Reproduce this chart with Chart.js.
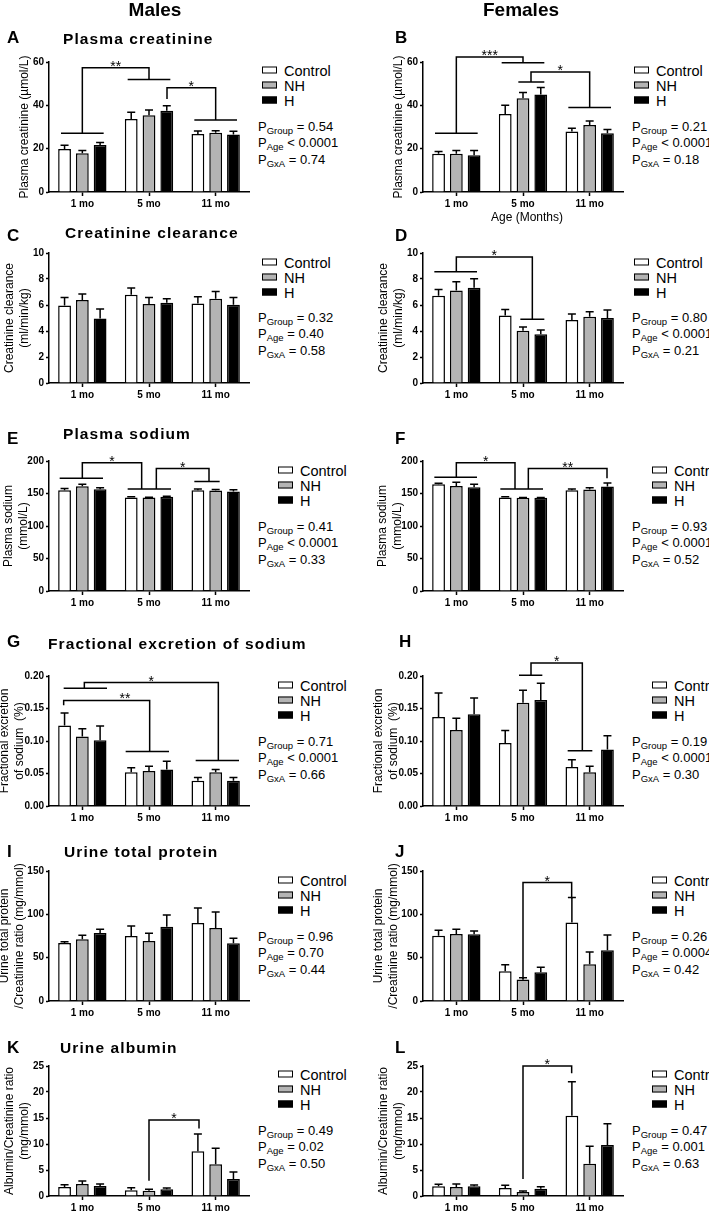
<!DOCTYPE html>
<html>
<head>
<meta charset="utf-8">
<script src="https://cdn.jsdelivr.net/npm/chart.js@4.4.1/dist/chart.umd.min.js"></script>
<style>
body { margin: 0; background: #fff; overflow: hidden; font-family: "Liberation Sans", Arial, sans-serif; color: #000; }
#fig { position: relative; width: 709px; height: 1225px; overflow: hidden; }
.abs { position: absolute; white-space: nowrap; }
.head { font-weight: bold; font-size: 19px; }
.letter { font-weight: bold; font-size: 17px; }
.ptitle { font-weight: bold; font-size: 15.5px; letter-spacing: 1.1px; }
.axt { font-size: 12px; }
.legend div { height: 15px; display: flex; align-items: center; font-size: 14.5px; }
.legend i { display: inline-block; width: 13px; height: 5px; border: 1.5px solid #000; margin-right: 7px; }
.pv { font-size: 13px; line-height: 16.5px; }
.pv sub { font-size: 9.5px; vertical-align: baseline; position: relative; top: 3px; line-height: 0; }
canvas { position: absolute; }
</style>
</head>
<body>
<div id="fig"></div>
<script>
const ages = ['1 mo', '5 mo', '11 mo'];
const groups = ['Control', 'NH', 'H'];
const groupFills = ['#ffffff', '#b4b4b4', '#000000'];

// each panel: mean and SEM per group (Control, NH, H) across ages
const creatMalesMean = [[19.9, 33.7, 26.8], [17.9, 35.4, 27.3], [21.7, 37.5, 26.5]];
const creatMalesSem = [[1.7, 3.1, 1.4], [1.2, 2.4, 1.0], [1.1, 2.3, 1.5]];
const creatFemalesMean = [[17.6, 36.0, 27.9], [17.6, 43.3, 30.9], [17.0, 45.0, 27.1]];
const creatFemalesSem = [[1.1, 4.0, 1.5], [1.5, 2.6, 1.9], [2.1, 3.2, 1.7]];

const clearMalesMean = [[5.97, 6.79, 6.12], [6.38, 6.07, 6.48], [4.97, 6.17, 6.02]];
const clearMalesSem = [[0.61, 0.51, 0.51], [0.46, 0.51, 0.56], [0.72, 0.31, 0.56]];
const clearFemalesMean = [[6.71, 5.20, 4.85], [7.12, 4.01, 5.10], [7.32, 3.75, 5.00]];
const clearFemalesSem = [[0.48, 0.46, 0.46], [0.66, 0.30, 0.38], [0.69, 0.33, 0.61]];

const sodiumMalesMean = [[155.1, 143.9, 155.1], [161.2, 143.9, 154.6], [156.6, 144.9, 153.1]];
const sodiumMalesSem = [[2.6, 1.0, 2.0], [3.1, 0.5, 1.5], [2.1, 1.0, 2.5]];
const sodiumFemalesMean = [[164.3, 143.9, 155.1], [161.7, 143.4, 156.1], [159.7, 143.4, 160.7]];
const sodiumFemalesSem = [[1.5, 1.0, 2.0], [5.6, 0.5, 2.6], [4.6, 0.5, 5.6]];

const feNaMalesMean = [[0.124, 0.052, 0.039], [0.107, 0.054, 0.052], [0.101, 0.056, 0.039]];
const feNaMalesSem = [[0.019, 0.007, 0.005], [0.012, 0.007, 0.004], [0.022, 0.013, 0.005]];
const feNaFemalesMean = [[0.137, 0.097, 0.060], [0.117, 0.159, 0.052], [0.141, 0.163, 0.087]];
const feNaFemalesSem = [[0.037, 0.019, 0.011], [0.018, 0.019, 0.009], [0.025, 0.026, 0.021]];

const protMalesMean = [[67.0, 75.0, 89.9], [71.2, 69.3, 84.2], [78.5, 85.7, 66.6]];
const protMalesSem = [[1.5, 11.5, 17.3], [4.6, 8.8, 18.4], [4.2, 13.4, 5.7]];
const protFemalesMean = [[75.4, 34.4, 90.7], [77.3, 24.9, 42.5], [76.9, 33.3, 58.6]];
const protFemalesSem = [[6.1, 7.3, 28.7], [5.4, 1.9, 14.1], [3.8, 5.7, 17.6]];

const albMalesMean = [[1.73, 1.09, 8.59], [2.31, 1.03, 6.09], [1.92, 1.28, 3.27]];
const albMalesSem = [[0.45, 0.51, 3.31], [0.57, 0.25, 3.08], [0.39, 0.26, 1.35]];
const albFemalesMean = [[1.86, 1.54, 15.45], [1.73, 0.77, 6.22], [1.86, 1.41, 9.81]];
const albFemalesSem = [[0.38, 0.51, 6.54], [0.58, 0.19, 3.33], [0.26, 0.38, 4.10]];

// two-way ANOVA results: Group, Age, GxA
const creatMalesP = ['= 0.54', '< 0.0001', '= 0.74'];
const creatFemalesP = ['= 0.21', '< 0.0001', '= 0.18'];
const clearMalesP = ['= 0.32', '= 0.40', '= 0.58'];
const clearFemalesP = ['= 0.80', '< 0.0001', '= 0.21'];
const sodiumMalesP = ['= 0.41', '< 0.0001', '= 0.33'];
const sodiumFemalesP = ['= 0.93', '< 0.0001', '= 0.52'];
const feNaMalesP = ['= 0.71', '< 0.0001', '= 0.66'];
const feNaFemalesP = ['= 0.19', '< 0.0001', '= 0.30'];
const protMalesP = ['= 0.96', '= 0.70', '= 0.44'];
const protFemalesP = ['= 0.26', '= 0.0004', '= 0.42'];
const albMalesP = ['= 0.49', '= 0.02', '= 0.50'];
const albFemalesP = ['= 0.47', '= 0.001', '= 0.63'];

// significance brackets: x in category units (0 = 1 mo), y in data units
const creatMalesSig = [
  { from: { x: 0, y: 27.1, l: [-0.32, 0.32] }, to: { x: 1, y: 51.9, l: [0.68, 1.32] }, top: 57.3, star: '**' },
  { from: { x: 1.27, y: 42.9 }, to: { x: 2, y: 33.2, l: [1.68, 2.32] }, top: 48.1, star: '*' }
];
const creatFemalesSig = [
  { from: { x: 0, y: 27.1, l: [-0.32, 0.32] }, to: { x: 1, y: 59.7, l: [0.68, 1.32] }, top: 62.3, star: '***' },
  { from: { x: 1.12, y: 50.8, l: [0.93, 1.32] }, to: { x: 2, y: 39.0, l: [1.68, 2.32] }, top: 55.4, star: '*' }
];
const clearFemalesSig = [
  { from: { x: 0, y: 8.55, l: [-0.33, 0.31] }, to: { x: 1.14, y: 4.9, l: [0.96, 1.32] }, top: 9.69, star: '*' }
];
const sodiumMalesSig = [
  { from: { x: 0, y: 173.5, l: [-0.34, 0.31] }, to: { x: 0.89, y: 157.1, l: [0.68, 1.33] }, top: 197.4, star: '*' },
  { from: { x: 1.11, y: 157.1 }, to: { x: 1.9, y: 168.4, l: [1.68, 2.06] }, top: 188.3, star: '*' }
];
const sodiumFemalesSig = [
  { from: { x: 0, y: 175.0, l: [-0.33, 0.31] }, to: { x: 0.88, y: 157.1, l: [0.66, 1.30] }, top: 197.4, star: '*' },
  { from: { x: 1.08, y: 157.1 }, to: { x: 2.26, y: 173.5 }, top: 188.3, star: '**' }
];
const feNaMalesSig = [
  { from: { x: 0.03, y: 0.181, l: [-0.28, 0.37] }, to: { x: 2.04, y: 0.070, l: [1.70, 2.35] }, top: 0.190, star: '*' },
  { from: { x: -0.28, y: 0.155 }, to: { x: 1.01, y: 0.084, l: [0.65, 1.30] }, top: 0.1625, star: '**', sx: 0.64 }
];
const feNaFemalesSig = [
  { from: { x: 1.12, y: 0.201, l: [0.94, 1.29] }, to: { x: 1.89, y: 0.085, l: [1.67, 2.04] }, top: 0.220, star: '*' }
];
const protFemalesSig = [
  { from: { x: 1.0, y: 24.9 }, to: { x: 1.73, y: 118.3 }, top: 136.6, star: '*' }
];
const albMalesSig = [
  { from: { x: 1.0, y: 2.95 }, to: { x: 1.75, y: 13.0 }, top: 14.6, star: '*' }
];
const albFemalesSig = [
  { from: { x: 1.0, y: 3.27 }, to: { x: 1.73, y: 23.6 }, top: 25.0, star: '*' }
];

const FONT = '"Liberation Sans", Arial, sans-serif';
const fig = document.getElementById('fig');

// layout per row
const rows = [
  { plotTop: 62, legY: 70, pY: 127, letY: 38, titleY: 39 },
  { plotTop: 253, legY: 262, pY: 318, letY: 236, titleY: 233 },
  { plotTop: 461, legY: 470, pY: 527, letY: 439, titleY: 434 },
  { plotTop: 676, legY: 685, pY: 742, letY: 642, titleY: 644 },
  { plotTop: 871, legY: 880, pY: 937, letY: 852, titleY: 852 },
  { plotTop: 1066, legY: 1074, pY: 1131, letY: 1048, titleY: 1048 }
];

const panels = [
  { letter: 'A', row: 0, col: 0, title: 'Plasma creatinine', tx: 63, mean: creatMalesMean, sem: creatMalesSem, p: creatMalesP, sig: creatMalesSig, max: 60, step: 20, yTitle: 'Plasma creatinine (\u00b5mol/L)', tRel: -24, legX: 262 },
  { letter: 'B', row: 0, col: 1, mean: creatFemalesMean, sem: creatFemalesSem, p: creatFemalesP, sig: creatFemalesSig, max: 60, step: 20, yTitle: 'Plasma creatinine (\u00b5mol/L)', tRel: -24, legX: 634 },
  { letter: 'C', row: 1, col: 0, title: 'Creatinine clearance', tx: 65, mean: clearMalesMean, sem: clearMalesSem, p: clearMalesP, sig: [], max: 10, step: 2, yTitle: ['Creatinine clearance', '(ml/min/kg)'], tRel: -39, legX: 262 },
  { letter: 'D', row: 1, col: 1, mean: clearFemalesMean, sem: clearFemalesSem, p: clearFemalesP, sig: clearFemalesSig, max: 10, step: 2, yTitle: ['Creatinine clearance', '(ml/min/kg)'], tRel: -39, legX: 634 },
  { letter: 'E', row: 2, col: 0, title: 'Plasma sodium', tx: 63, mean: sodiumMalesMean, sem: sodiumMalesSem, p: sodiumMalesP, sig: sodiumMalesSig, max: 200, step: 50, yTitle: ['Plasma sodium', '(mmol/L)'], tRel: -40, legX: 278 },
  { letter: 'F', row: 2, col: 1, mean: sodiumFemalesMean, sem: sodiumFemalesSem, p: sodiumFemalesP, sig: sodiumFemalesSig, max: 200, step: 50, yTitle: ['Plasma sodium', '(mmol/L)'], tRel: -40, legX: 652 },
  { letter: 'G', row: 3, col: 0, title: 'Fractional excretion of sodium', tx: 48, mean: feNaMalesMean, sem: feNaMalesSem, p: feNaMalesP, sig: feNaMalesSig, max: 0.2, step: 0.05, dec: 2, yTitle: ['Fractional excretion', 'of sodium  (%)'], tRel: -44, legX: 278 },
  { letter: 'H', row: 3, col: 1, mean: feNaFemalesMean, sem: feNaFemalesSem, p: feNaFemalesP, sig: feNaFemalesSig, max: 0.2, step: 0.05, dec: 2, yTitle: ['Fractional excretion', 'of sodium  (%)'], tRel: -44, legX: 652 },
  { letter: 'I', row: 4, col: 0, title: 'Urine total protein', tx: 64, mean: protMalesMean, sem: protMalesSem, p: protMalesP, sig: [], max: 150, step: 50, yTitle: ['Urine total protein', '/Creatinine ratio (mg/mmol)'], tRel: -44, legX: 278 },
  { letter: 'J', row: 4, col: 1, mean: protFemalesMean, sem: protFemalesSem, p: protFemalesP, sig: protFemalesSig, max: 150, step: 50, yTitle: ['Urine total protein', '/Creatinine ratio (mg/mmol)'], tRel: -44, legX: 652 },
  { letter: 'K', row: 5, col: 0, title: 'Urine  albumin', tx: 60, mean: albMalesMean, sem: albMalesSem, p: albMalesP, sig: albMalesSig, max: 25, step: 5, yTitle: ['Albumin/Creatinine ratio', '(mg/mmol)'], tRel: -39, legX: 278 },
  { letter: 'L', row: 5, col: 1, mean: albFemalesMean, sem: albFemalesSem, p: albFemalesP, sig: albFemalesSig, max: 25, step: 5, yTitle: ['Albumin/Creatinine ratio', '(mg/mmol)'], tRel: -39, legX: 652 }
];

function addText(cls, html, x, y, center) {
  const d = document.createElement('div');
  d.className = 'abs ' + cls;
  d.innerHTML = html;
  d.style.left = x + 'px';
  d.style.top = y + 'px';
  d.style.transform = center ? 'translate(-50%,-50%)' : 'translateY(-50%)';
  fig.appendChild(d);
  return d;
}

// error bars + significance brackets
const sigPlugin = {
  id: 'sig',
  afterDatasetsDraw(chart, args, opts) {
    const ctx = chart.ctx;
    const xs = chart.scales.x, ys = chart.scales.y;
    ctx.save();
    ctx.strokeStyle = '#000';
    ctx.lineWidth = 1.5;
    ctx.beginPath();
    chart.data.datasets.forEach((ds, di) => {
      chart.getDatasetMeta(di).data.forEach((bar, i) => {
        const yt = ys.getPixelForValue(ds.data[i] + ds.sem[i]);
        ctx.moveTo(bar.x, bar.y);
        ctx.lineTo(bar.x, yt);
        ctx.moveTo(bar.x - 4, yt);
        ctx.lineTo(bar.x + 4, yt);
      });
    });
    ctx.stroke();

    const x0 = xs.getPixelForValue(0);
    const dx = xs.getPixelForValue(1) - x0;
    const px = u => x0 + u * dx;
    const py = v => ys.getPixelForValue(v);
    (opts.brackets || []).forEach(b => {
      ctx.beginPath();
      [b.from, b.to].forEach(e => {
        if (e.l) {
          ctx.moveTo(px(e.l[0]), py(e.y));
          ctx.lineTo(px(e.l[1]), py(e.y));
        }
      });
      ctx.moveTo(px(b.from.x), py(b.from.y));
      ctx.lineTo(px(b.from.x), py(b.top));
      ctx.lineTo(px(b.to.x), py(b.top));
      ctx.lineTo(px(b.to.x), py(b.to.y));
      ctx.stroke();
      ctx.fillStyle = '#000';
      ctx.font = '14px ' + FONT;
      ctx.textAlign = 'center';
      ctx.textBaseline = 'alphabetic';
      const sx = b.sx !== undefined ? b.sx : (b.from.x + b.to.x) / 2;
      ctx.fillText(b.star, px(sx), py(b.top) + 3);
    });
    ctx.restore();
  }
};

const AXW = 54, PADT = 26, XH = 20, PW = 200, PH = 130;

panels.forEach(p => {
  const r = rows[p.row];
  const axisX = p.col === 0 ? 49 : 423;

  const cv = document.createElement('canvas');
  cv.width = AXW + PW + 4;
  cv.height = PADT + PH + XH;
  cv.style.left = (axisX - AXW) + 'px';
  cv.style.top = (r.plotTop - PADT) + 'px';
  fig.appendChild(cv);

  new Chart(cv, {
    type: 'bar',
    data: {
      labels: ages,
      datasets: groups.map((g, i) => ({
        label: g,
        data: p.mean[i],
        sem: p.sem[i],
        backgroundColor: groupFills[i],
        borderColor: '#000',
        borderWidth: 1.5,
        categoryPercentage: 0.8,
        barPercentage: 0.72
      }))
    },
    options: {
      responsive: false,
      animation: false,
      devicePixelRatio: 1,
      layout: { padding: { top: PADT, right: 4, left: 0, bottom: 0 } },
      plugins: { legend: { display: false }, tooltip: { enabled: false }, sig: { brackets: p.sig } },
      scales: {
        x: {
          afterFit: s => { s.height = XH; },
          grid: { drawOnChartArea: false, offset: false, tickLength: 4, tickColor: '#000', tickWidth: 1.5 },
          border: { color: '#000', width: 1.5 },
          ticks: { color: '#000', font: { family: FONT, size: 10, weight: 'bold' }, padding: 2, maxRotation: 0 }
        },
        y: {
          min: 0,
          max: p.max,
          afterFit: s => { s.width = AXW; },
          grid: { drawOnChartArea: false, tickLength: 3, tickColor: '#000', tickWidth: 1.5 },
          border: { color: '#000', width: 1.5 },
          ticks: {
            stepSize: p.step,
            color: '#000',
            padding: 2,
            font: { family: FONT, size: 10, weight: 'bold' },
            callback: v => p.dec ? Number(v).toFixed(p.dec) : v
          },
          title: {
            display: true,
            text: p.yTitle,
            color: '#000',
            font: { family: FONT, size: 12 },
            padding: { top: AXW + p.tRel - 7.2, bottom: 0 }
          }
        }
      }
    },
    plugins: [sigPlugin]
  });

  // letter + title
  addText('letter', p.letter, p.col === 0 ? 7 : (p.letter === 'H' ? 399 : 395), r.letY);
  if (p.title) addText('ptitle', p.title, p.tx, r.titleY);

  // legend
  addText('legend', groups.map((g, i) =>
    `<div><i style="background:${groupFills[i]}"></i>${g}</div>`).join(''), p.legX, r.legY + 15);

  // p-values
  const pv = ['Group', 'Age', 'GxA'].map((k, i) => `P<sub>${k}</sub> ${p.p[i]}`).join('<br>');
  addText('pv', pv, p.col === 0 ? 258 : 632, r.pY + 16.5);
});

addText('head', 'Males', 155, 10, true);
addText('head', 'Females', 521, 10, true);
addText('axt', 'Age (Months)', 527, 217, true);
</script>
</body>
</html>
